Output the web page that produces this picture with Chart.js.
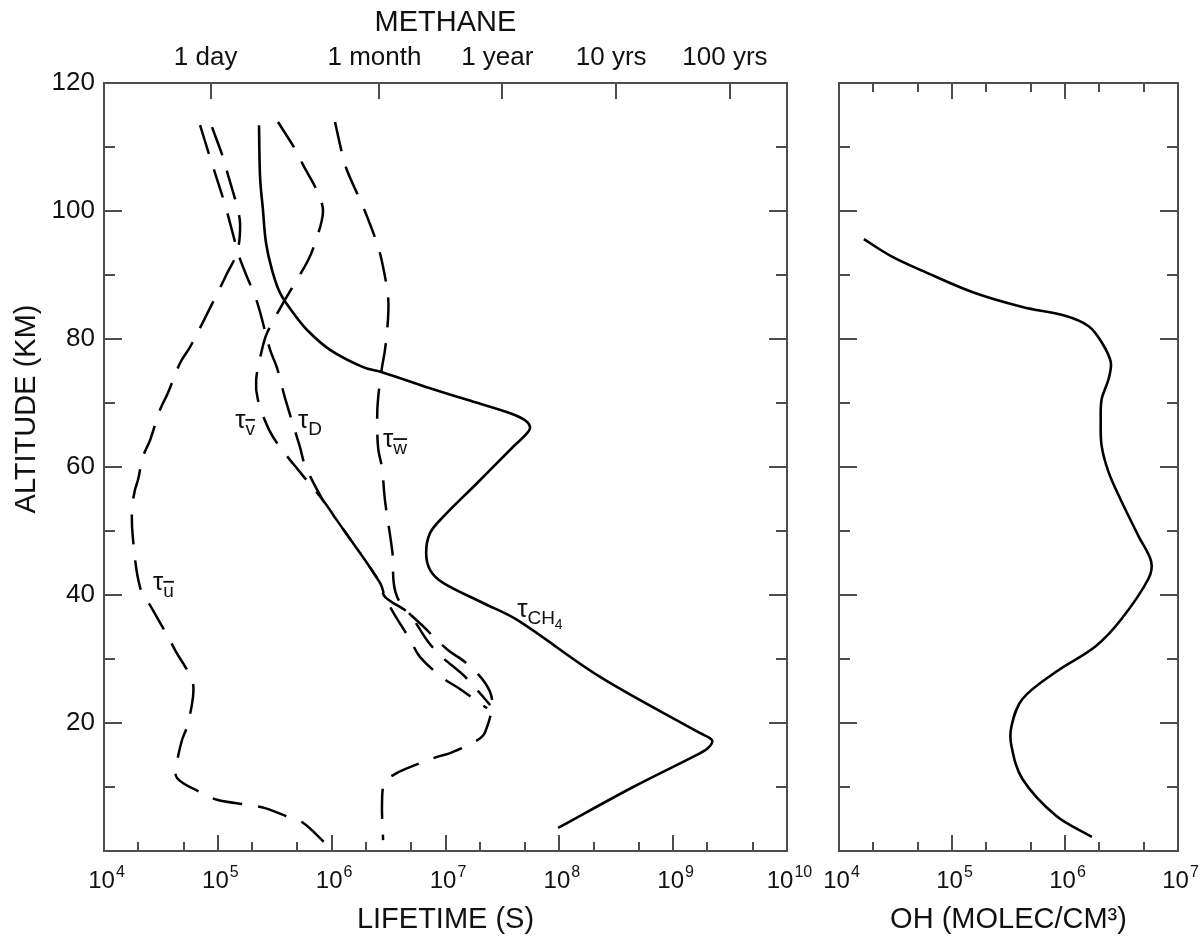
<!DOCTYPE html>
<html>
<head>
<meta charset="utf-8">
<title>Methane lifetime</title>
<script src="https://cdn.jsdelivr.net/npm/chart.js@4.4.1/dist/chart.umd.min.js"></script>
<style>
  html, body { margin: 0; padding: 0; background: #fff; }
  #wrap { position: relative; width: 1204px; height: 937px; overflow: hidden; }
  canvas { position: absolute; top: 0; }
  #lifeChart { left: 0; }
  #ohChart { left: 812px; }
</style>
</head>
<body>
<div id="wrap">
  <canvas id="lifeChart" width="812" height="937"></canvas>
  <canvas id="ohChart" width="392" height="937"></canvas>
</div>
<script>
'use strict';

// ─── Data (altitude in km, lifetimes in s, OH in molec/cm3) ───────
const CH4_ALT  = [113.4, 105.3, 100.2, 95, 90.8, 87.2, 84.1, 81.4, 78.3, 75.6, 74.8, 72.3, 70.5, 68.4, 67.3, 66.25, 65.3, 62.7, 57.5, 52.2, 49.7, 46.6, 43.9, 41.9, 38.75, 36.1, 27.2, 18.4, 17.3, 16.1, 15.3, 10, 3.6];
const CH4_LIFE = [2.30e5, 2.35e5, 2.49e5, 2.65e5, 2.99e5, 3.52e5, 4.58e5, 6.08e5, 9.68e5, 1.89e6, 2.77e6, 7.33e6, 1.55e7, 3.70e7, 5.0e7, 5.53e7, 5.21e7, 3.70e7, 1.90e7, 9.53e6, 7.33e6, 6.76e6, 7.33e6, 9.53e6, 2.14e7, 4.26e7, 2.28e8, 1.73e9, 2.20e9, 2.03e9, 1.73e9, 4.45e8, 9.75e7];

const TAU_U_ALT  = [113.1, 108.4, 105.6, 100.6, 97.8, 93.6, 90.3, 85.8, 83.3, 78.75, 76.25, 71.6, 68.9, 64.2, 61.6, 58, 56.4, 53.3, 48.6, 41.25, 38.4, 33.75, 31.4, 26.7, 24.1, 19.4, 17.3, 13.75, 11.4, 9.2, 8.0, 7.2, 6.7, 5.2, 4.4, 1.25];
const TAU_U_LIFE = [8.89e4, 1.11e5, 1.23e5, 1.48e5, 1.57e5, 1.48e5, 1.21e5, 9.08e4, 7.73e4, 5.70e4, 4.66e4, 3.65e4, 3.10e4, 2.54e4, 2.20e4, 1.99e4, 1.87e4, 1.76e4, 1.80e4, 2.07e4, 2.54e4, 3.58e4, 4.21e4, 5.93e4, 6.05e4, 5.36e4, 4.84e4, 4.38e4, 4.38e4, 6.98e4, 9.84e4, 1.84e5, 2.60e5, 4.31e5, 5.61e5, 8.75e5];

const TAU_V_ALT  = [113.9, 109.7, 107.2, 102.8, 99.8, 95, 92.3, 88, 85.3, 80.9, 78.3, 73.6, 70.5, 65.8, 63.1, 59.2, 54.8, 51.7, 41.9, 39.7, 37.3, 33, 30.3, 27, 25.5, 22.3];
const TAU_V_LIFE = [3.38e5, 4.76e5, 5.61e5, 7.59e5, 8.39e5, 7.14e5, 6.21e5, 4.49e5, 3.66e5, 2.70e5, 2.44e5, 2.17e5, 2.25e5, 2.82e5, 3.52e5, 5.27e5, 8.39e5, 1.11e6, 2.66e6, 2.94e6, 3.47e6, 4.89e6, 5.98e6, 9.53e6, 1.29e7, 2.32e7];

const TAU_D_ALT  = [113.4, 108.4, 100.9, 93.4, 90.5, 85.8, 78.3, 75.5, 70.8, 63.1, 60.3, 54.8, 51.7, 41.9, 39.7, 37.2, 32.7, 30.3, 27.2, 22.8];
const TAU_D_LIFE = [6.98e4, 8.53e4, 1.16e5, 1.51e5, 1.73e5, 2.21e5, 2.88e5, 3.31e5, 3.89e5, 5.27e5, 5.83e5, 8.39e5, 1.11e6, 2.66e6, 2.94e6, 4.69e6, 7.03e6, 9.33e6, 1.49e7, 2.47e7];

const TAU_W_ALT  = [113.9, 109.1, 106.4, 101.7, 99.1, 94.4, 91.25, 86.6, 83.3, 78.3, 75.6, 70.8, 67.7, 63, 59.8, 54.8, 47, 39.7, 34.5, 31.4, 29.5, 26.25, 23.3, 18.6, 17.3, 15.3, 14.7, 13, 12.2, 10.8, 7.7, 1.7];
const TAU_W_LIFE = [1.07e6, 1.23e6, 1.36e6, 1.78e6, 2.05e6, 2.56e6, 2.83e6, 3.13e6, 3.13e6, 2.94e6, 2.77e6, 2.56e6, 2.51e6, 2.56e6, 2.77e6, 2.94e6, 3.40e6, 3.76e6, 6.89e6, 1.05e7, 1.49e7, 2.23e7, 2.57e7, 2.23e7, 1.90e7, 1.10e7, 8.43e6, 4.69e6, 3.76e6, 2.94e6, 2.77e6, 2.83e6];

const OH_ALT  = [95.6, 93.0, 90.6, 87.3, 85.0, 83.6, 82.0, 79.5, 76.4, 73.75, 70.6, 67.5, 63.3, 59.2, 55, 49.2, 45.2, 42.5, 36.25, 32.0, 28.0, 23.75, 19.5, 16.4, 11.25, 5.5, 2.2];
const OH_CONC = [1.66e4, 2.86e4, 5.57e4, 1.53e5, 4.2e5, 1.02e6, 1.62e6, 2.11e6, 2.54e6, 2.43e6, 2.11e6, 2.07e6, 2.11e6, 2.43e6, 3.09e6, 4.47e6, 5.79e6, 5.46e6, 3.16e6, 1.87e6, 8.34e5, 4.2e5, 3.36e5, 3.36e5, 4.2e5, 8.34e5, 1.73e6];

// top axis of the lifetime panel: 1 day, 1 month, 1 year, 10 yrs, 100 yrs (in s)
const TOP_TICK_VALUES = [86400, 2.63e6, 3.156e7, 3.156e8, 3.156e9];
const TOP_TICK_LABELS = ['1 day', '1 month', '1 year', '10 yrs', '100 yrs'];
const ALT_TICK_LABELS = [20, 40, 60, 80, 100, 120];

// curve labels, anchored in data units
const CURVE_LABELS = [
    { x: 1.42e5, y: 66.1, sub: 'v', bar: true },
    { x: 5.07e5, y: 66.1, sub: 'D' },
    { x: 2.83e6, y: 63.1, sub: 'w', bar: true },
    { x: 2.70e4, y: 40.8, sub: 'u', bar: true },
    { x: 4.26e7, y: 36.6, sub: 'CH', sub2: '4' }
];

const FONT = '"Liberation Sans", Arial, sans-serif';
const INK = '#111';
const FRAME = '#4d4d4d';
const DASH = [30, 16];

function pairs(xs, ys) {
    return xs.map((x, i) => ({ x, y: ys[i] }));
}

// decades with 2x and 5x minor ticks, [value, length]
function logTicks(fromExp, toExp) {
    const out = [];
    for (let e = fromExp; e <= toExp; e++) {
        out.push([Math.pow(10, e), 16]);
        if (e < toExp) {
            out.push([2 * Math.pow(10, e), 9]);
            out.push([5 * Math.pow(10, e), 9]);
        }
    }
    return out;
}
const decades = (a, b) => Array.from({ length: b - a + 1 }, (_, i) => Math.pow(10, a + i));

const ALT_TICKS = Array.from({ length: 11 }, (_, i) => [(i + 1) * 10, (i + 1) % 2 === 0 ? 18 : 11]);

// ─── Plugins ──────────────────────────────────────────────────
const insideTicks = {
    id: 'insideTicks',
    afterDatasetsDraw(chart, args, opts) {
        const ctx = chart.ctx, a = chart.chartArea;
        ctx.save();
        ctx.strokeStyle = FRAME;
        ctx.lineWidth = 2;
        ctx.beginPath();
        (opts.marks || []).forEach(m => {
            const s = chart.scales[m.scale];
            m.ticks.forEach(([v, len]) => {
                const p = Math.round(s.getPixelForValue(v));
                if (m.edge === 'left') { ctx.moveTo(a.left, p); ctx.lineTo(a.left + len, p); }
                if (m.edge === 'right') { ctx.moveTo(a.right, p); ctx.lineTo(a.right - len, p); }
                if (m.edge === 'bottom') { ctx.moveTo(p, a.bottom); ctx.lineTo(p, a.bottom - len); }
                if (m.edge === 'top') { ctx.moveTo(p, a.top); ctx.lineTo(p, a.top + len); }
            });
        });
        ctx.stroke();
        ctx.restore();
    }
};

// "10" with a raised exponent under each decade of the bottom axis
const powerLabels = {
    id: 'powerLabels',
    afterDraw(chart, args, opts) {
        if (!opts.values) return;
        const ctx = chart.ctx, s = chart.scales.x;
        const base = chart.chartArea.bottom + 37;
        ctx.save();
        ctx.fillStyle = INK;
        ctx.textBaseline = 'alphabetic';
        ctx.textAlign = 'left';
        opts.values.forEach(v => {
            const exp = String(Math.round(Math.log10(v)));
            ctx.font = '24px ' + FONT;
            const w1 = ctx.measureText('10').width;
            ctx.font = '16px ' + FONT;
            const w2 = ctx.measureText(exp).width;
            const x0 = s.getPixelForValue(v) - (w1 + w2) / 2 + 2;
            ctx.font = '24px ' + FONT;
            ctx.fillText('10', x0, base);
            ctx.font = '16px ' + FONT;
            ctx.fillText(exp, x0 + w1 + 1, base - 11);
        });
        ctx.restore();
    }
};

const curveLabels = {
    id: 'curveLabels',
    afterDatasetsDraw(chart, args, opts) {
        if (!opts.items) return;
        const ctx = chart.ctx;
        const xs = chart.scales.x, ys = chart.scales.y;
        ctx.save();
        ctx.fillStyle = INK;
        ctx.textAlign = 'left';
        ctx.textBaseline = 'alphabetic';
        opts.items.forEach(l => {
            const px = xs.getPixelForValue(l.x), py = ys.getPixelForValue(l.y);
            ctx.font = '26px ' + FONT;
            ctx.fillText('τ', px, py);
            const cx = px + ctx.measureText('τ').width;
            ctx.font = '19px ' + FONT;
            ctx.fillText(l.sub, cx, py + 7);
            const w = ctx.measureText(l.sub).width;
            if (l.bar) ctx.fillRect(cx, py + 7 - 16, w, 1.8);
            if (l.sub2) {
                ctx.font = '14px ' + FONT;
                ctx.fillText(l.sub2, cx + w, py + 12);
            }
        });
        ctx.restore();
    }
};

const sideTitle = {
    id: 'sideTitle',
    afterDraw(chart, args, opts) {
        if (!opts.text) return;
        const ctx = chart.ctx;
        ctx.save();
        ctx.translate(opts.x, opts.y);
        ctx.rotate(-Math.PI / 2);
        ctx.font = opts.size + 'px ' + FONT;
        ctx.fillStyle = INK;
        ctx.textAlign = 'center';
        ctx.textBaseline = 'middle';
        ctx.fillText(opts.text, 0, 0);
        ctx.restore();
    }
};

// ─── Shared axis helpers ──────────────────────────────────────
const fixW = w => s => { s.width = w; s.paddingTop = 0; s.paddingBottom = 0; };
const fixH = h => s => { s.height = h; s.paddingLeft = 0; s.paddingRight = 0; };
const noGrid = { display: false, drawTicks: false };
const frame = { display: true, color: FRAME, width: 2 };

function curve(label, xs, ys, dashed, width) {
    return {
        label,
        data: pairs(xs, ys),
        xAxisID: 'x',
        yAxisID: 'y',
        borderColor: '#000',
        borderWidth: width || 2.5,
        borderDash: dashed ? DASH : [],
        pointRadius: 0,
        tension: 0.35,
        fill: false
    };
}

// ─── Lifetime panel ───────────────────────────────────────────
new Chart(document.getElementById('lifeChart'), {
    type: 'line',
    data: {
        datasets: [
            curve('τCH4', CH4_LIFE, CH4_ALT, false, 2.6),
            curve('τu', TAU_U_LIFE, TAU_U_ALT, true),
            curve('τv', TAU_V_LIFE, TAU_V_ALT, true),
            curve('τD', TAU_D_LIFE, TAU_D_ALT, true),
            curve('τw', TAU_W_LIFE, TAU_W_ALT, true)
        ]
    },
    options: {
        responsive: false,
        animation: false,
        indexAxis: 'y',
        layout: { padding: 0 },
        plugins: {
            legend: { display: false },
            tooltip: { enabled: false },
            insideTicks: {
                marks: [
                    { scale: 'y', edge: 'left', ticks: ALT_TICKS },
                    { scale: 'yRight', edge: 'right', ticks: ALT_TICKS },
                    { scale: 'x', edge: 'bottom', ticks: logTicks(4, 10) },
                    { scale: 'xTop', edge: 'top', ticks: TOP_TICK_VALUES.map(v => [v, 16]) }
                ]
            },
            powerLabels: { values: decades(4, 10) },
            curveLabels: { items: CURVE_LABELS },
            sideTitle: { text: 'ALTITUDE (KM)', x: 27, y: 409, size: 29 }
        },
        scales: {
            x: {
                type: 'logarithmic', position: 'bottom', min: 1e4, max: 1e10,
                grid: noGrid, border: frame,
                afterFit: fixH(86),
                ticks: { display: false },
                title: { display: true, text: 'LIFETIME (S)', color: INK, font: { family: FONT, size: 29 }, padding: { top: 0, bottom: 0 } }
            },
            xTop: {
                type: 'logarithmic', position: 'top', min: 1e4, max: 1e10,
                grid: noGrid, border: frame,
                afterBuildTicks: s => { s.ticks = TOP_TICK_VALUES.map(v => ({ value: v })); },
                afterFit: fixH(83),
                ticks: {
                    autoSkip: false, maxRotation: 0, padding: 10, labelOffset: -5, color: INK,
                    font: { family: FONT, size: 26 },
                    callback: (v, i) => TOP_TICK_LABELS[i]
                },
                title: { display: true, text: 'METHANE', color: INK, font: { family: FONT, size: 29 }, padding: { top: 6, bottom: 0 } }
            },
            y: {
                type: 'linear', position: 'left', min: 0, max: 120,
                grid: noGrid, border: frame,
                afterBuildTicks: s => { s.ticks = ALT_TICK_LABELS.map(v => ({ value: v })); },
                afterFit: fixW(104),
                ticks: { padding: 9, color: INK, font: { family: FONT, size: 26 } }
            },
            yRight: {
                type: 'linear', position: 'right', min: 0, max: 120,
                grid: noGrid, border: frame,
                afterFit: fixW(25),
                ticks: { display: false }
            }
        }
    },
    plugins: [insideTicks, powerLabels, curveLabels, sideTitle]
});

// ─── OH panel ─────────────────────────────────────────────────
new Chart(document.getElementById('ohChart'), {
    type: 'line',
    data: {
        datasets: [curve('OH', OH_CONC, OH_ALT, false, 2.6)]
    },
    options: {
        responsive: false,
        animation: false,
        indexAxis: 'y',
        layout: { padding: 0 },
        plugins: {
            legend: { display: false },
            tooltip: { enabled: false },
            insideTicks: {
                marks: [
                    { scale: 'y', edge: 'left', ticks: ALT_TICKS },
                    { scale: 'yRight', edge: 'right', ticks: ALT_TICKS },
                    { scale: 'x', edge: 'bottom', ticks: logTicks(4, 7) },
                    { scale: 'xTop', edge: 'top', ticks: logTicks(4, 7) }
                ]
            },
            powerLabels: { values: decades(4, 7) }
        },
        scales: {
            x: {
                type: 'logarithmic', position: 'bottom', min: 1e4, max: 1e7,
                grid: noGrid, border: frame,
                afterFit: fixH(86),
                ticks: { display: false },
                title: { display: true, text: 'OH (MOLEC/CM³)', color: INK, font: { family: FONT, size: 29 }, padding: { top: 0, bottom: 0 } }
            },
            xTop: {
                type: 'logarithmic', position: 'top', min: 1e4, max: 1e7,
                grid: noGrid, border: frame,
                afterFit: fixH(83),
                ticks: { display: false }
            },
            y: {
                type: 'linear', position: 'left', min: 0, max: 120,
                grid: noGrid, border: frame,
                afterFit: fixW(27),
                ticks: { display: false }
            },
            yRight: {
                type: 'linear', position: 'right', min: 0, max: 120,
                grid: noGrid, border: frame,
                afterFit: fixW(26),
                ticks: { display: false }
            }
        }
    },
    plugins: [insideTicks, powerLabels]
});
</script>
</body>
</html>
